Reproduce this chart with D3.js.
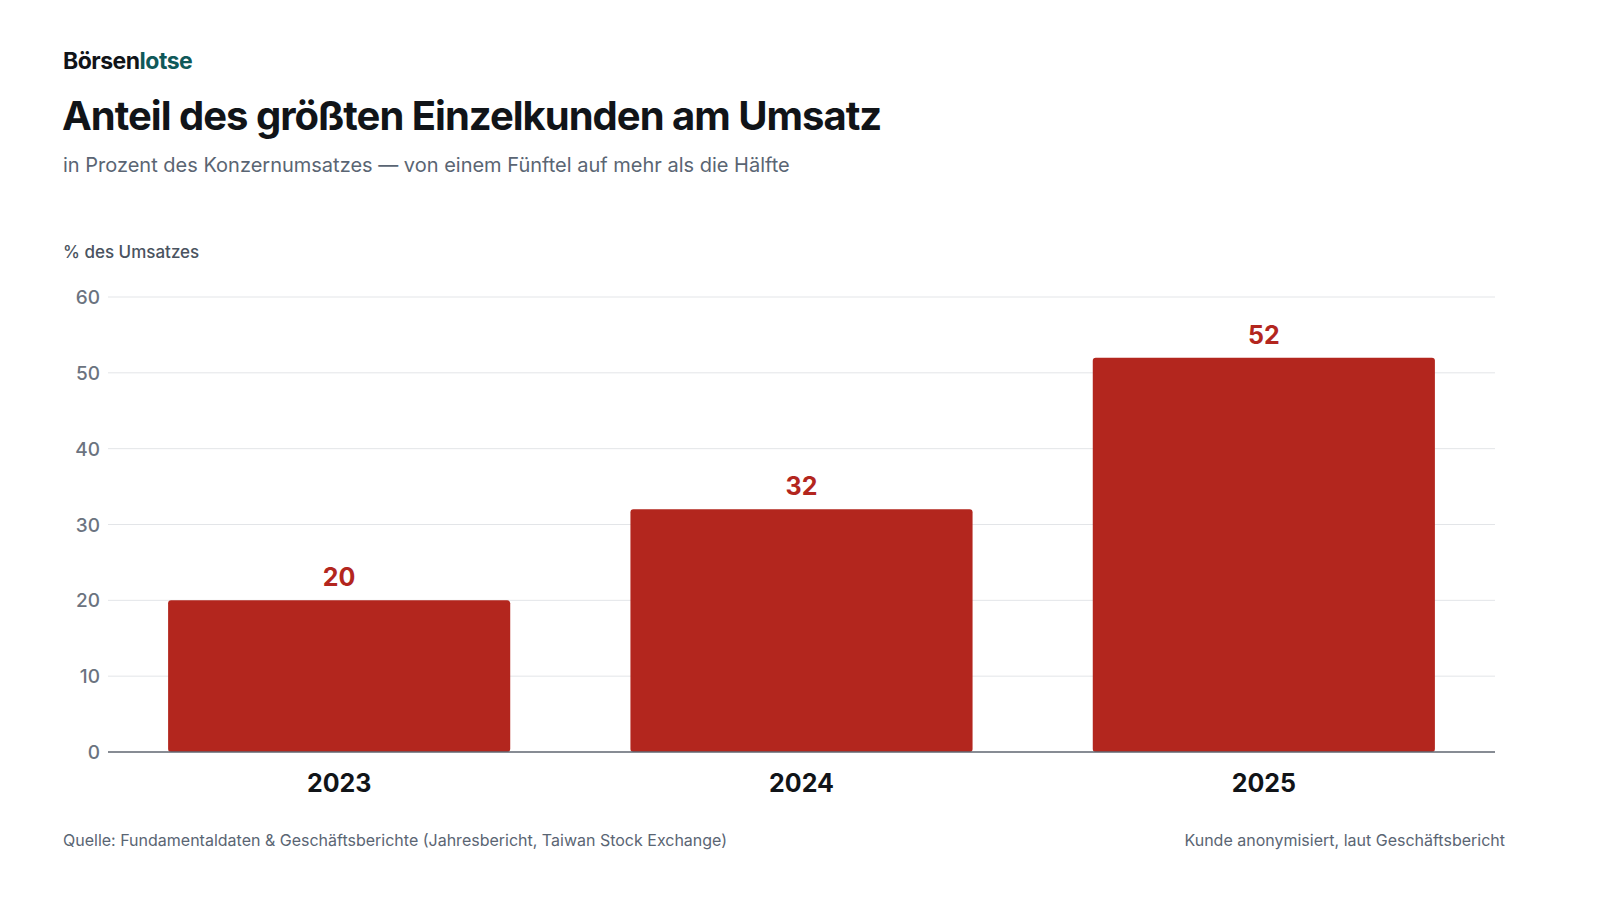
<!DOCTYPE html>
<html><head><meta charset="utf-8">
<script src="https://cdn.jsdelivr.net/npm/d3@7"></script>
<style>
body{margin:0;background:#fff;font-family:Inter,"Noto Sans",sans-serif;}
</style></head>
<body><svg id="c" width="1600" height="900"></svg>
<script>
// Daten
const years = ["2023", "2024", "2025"];
const shares = [20, 32, 52];
const yTicks = [0, 10, 20, 30, 40, 50, 60];

const svg = d3.select('#c');
const plotLeft = 108, plotRight = 1495, plotTop = 297, plotBottom = 752;

const x = d3.scaleBand().domain(years).range([plotLeft, plotRight]).paddingInner(0.26).paddingOuter(0.13);
const y = d3.scaleLinear().domain([0, 60]).range([plotBottom, plotTop]);

// Kopf
const brand = svg.append('text').attr('x', 63).attr('y', 69).attr('font-size', 23).attr('font-weight', 700).attr('letter-spacing', -0.5);
brand.append('tspan').attr('fill', '#111418').text('Börsen');
brand.append('tspan').attr('fill', '#0f5959').text('lotse');
svg.append('text').attr('x', 62).attr('y', 130).attr('font-size', 40).attr('font-weight', 700)
  .attr('letter-spacing', -1).attr('fill', '#111418').text('Anteil des größten Einzelkunden am Umsatz');
svg.append('text').attr('x', 63).attr('y', 172).attr('font-size', 20).attr('fill', '#5a6573')
  .text('in Prozent des Konzernumsatzes — von einem Fünftel auf mehr als die Hälfte');
svg.append('text').attr('x', 63).attr('y', 258).attr('font-size', 17).attr('font-weight', 500).attr('fill', '#4a5360')
  .text('% des Umsatzes');

// Gitter
svg.append('g').selectAll('line').data(yTicks.filter(d => d > 0)).join('line')
  .attr('x1', plotLeft).attr('x2', plotRight).attr('y1', d => y(d)).attr('y2', d => y(d))
  .attr('stroke', '#e3e5e8').attr('stroke-width', 1);
svg.append('g').selectAll('text').data(yTicks).join('text')
  .attr('x', 100).attr('y', d => y(d) + 7).attr('text-anchor', 'end')
  .attr('font-size', 19).attr('font-weight', 500).attr('fill', '#6b7380').text(d => d);

// Balken
svg.append('g').selectAll('rect').data(shares).join('rect')
  .attr('x', (d, i) => x(years[i])).attr('width', x.bandwidth())
  .attr('y', d => y(d)).attr('height', d => plotBottom - y(d))
  .attr('rx', 3).attr('fill', '#b3261e');
svg.append('g').selectAll('text').data(shares).join('text')
  .attr('x', (d, i) => x(years[i]) + x.bandwidth() / 2).attr('y', d => y(d) - 14)
  .attr('text-anchor', 'middle').attr('font-size', 25).attr('font-weight', 700).attr('fill', '#b3261e').text(d => d);

svg.append('line').attr('x1', plotLeft).attr('x2', plotRight).attr('y1', plotBottom).attr('y2', plotBottom)
  .attr('stroke', '#5f6670').attr('stroke-width', 1.5);

svg.append('g').selectAll('text').data(years).join('text')
  .attr('x', d => x(d) + x.bandwidth() / 2).attr('y', 792).attr('text-anchor', 'middle')
  .attr('font-size', 25).attr('font-weight', 700).attr('fill', '#111418').text(d => d);

// Fuß
svg.append('text').attr('x', 63).attr('y', 846).attr('font-size', 16).attr('fill', '#5a6573')
  .text('Quelle: Fundamentaldaten & Geschäftsberichte (Jahresbericht, Taiwan Stock Exchange)');
svg.append('text').attr('x', 1505).attr('y', 846).attr('text-anchor', 'end').attr('font-size', 16).attr('fill', '#5a6573')
  .text('Kunde anonymisiert, laut Geschäftsbericht');
</script></body></html>
